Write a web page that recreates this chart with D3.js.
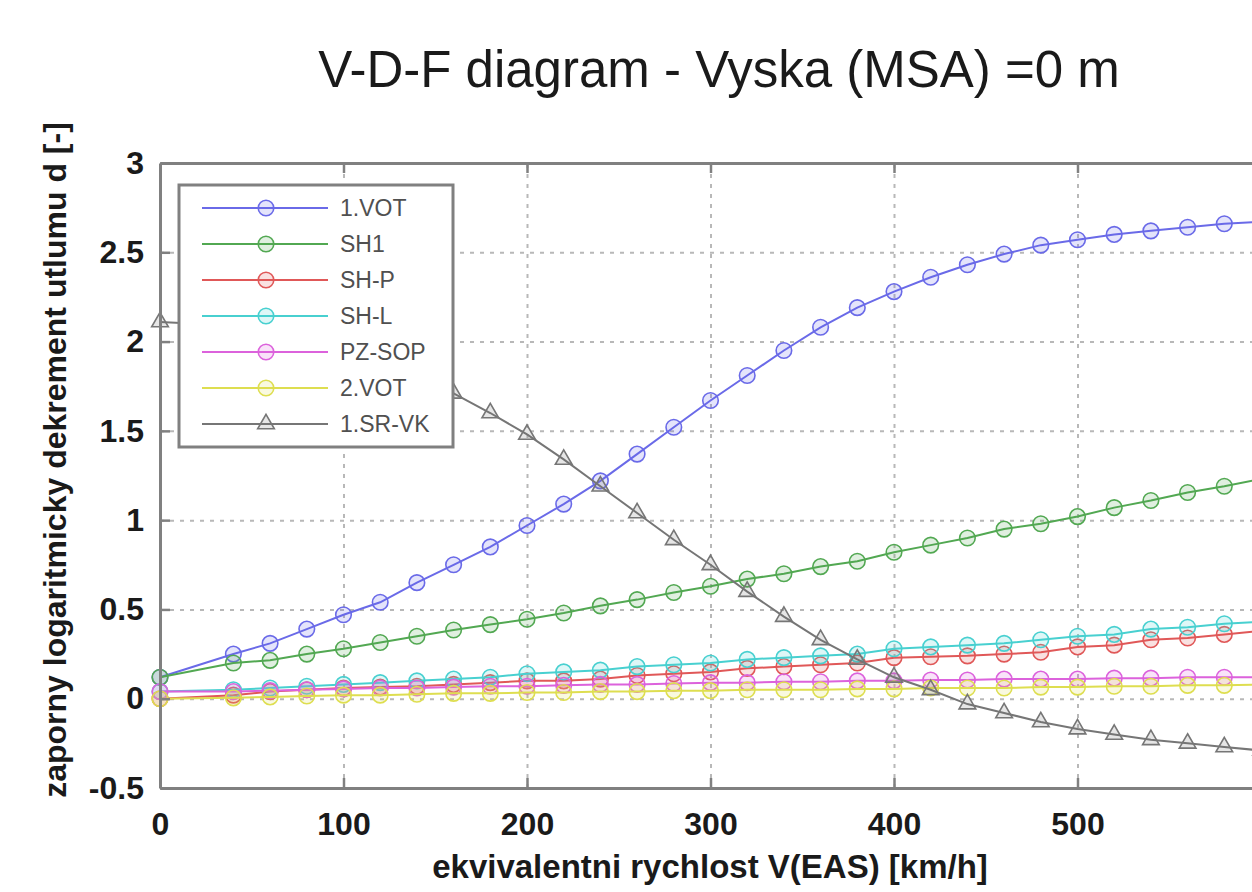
<!DOCTYPE html>
<html>
<head>
<meta charset="utf-8">
<script src="https://cdn.jsdelivr.net/npm/d3@7/dist/d3.min.js"></script>
<style>
body { margin: 0; background: #ffffff; }
svg { display: block; font-family: 'Liberation Sans', Arial, sans-serif; }
</style>
</head>
<body>
<svg id="board"></svg>
<script>
// data
let speeds = [0, 40, 60, 80, 100, 120, 140, 160, 180, 200, 220, 240, 260, 280, 300,
              320, 340, 360, 380, 400, 420, 440, 460, 480, 500, 520, 540, 560, 580, 600]

let vot1  = [0.12, 0.25, 0.31, 0.39, 0.47, 0.54, 0.65, 0.75, 0.85, 0.97, 1.09, 1.22, 1.37, 1.52, 1.67,
             1.81, 1.95, 2.08, 2.19, 2.28, 2.36, 2.43, 2.49, 2.54, 2.57, 2.60, 2.62, 2.64, 2.66, 2.67]
let sh1   = [0.12, 0.20, 0.215, 0.25, 0.28, 0.315, 0.35, 0.385, 0.415, 0.445, 0.48, 0.52, 0.555, 0.595, 0.63,
             0.67, 0.70, 0.74, 0.77, 0.82, 0.86, 0.90, 0.95, 0.98, 1.02, 1.07, 1.11, 1.155, 1.19, 1.23]
let shP   = [0.0, 0.02, 0.04, 0.05, 0.06, 0.065, 0.07, 0.08, 0.09, 0.10, 0.10, 0.11, 0.13, 0.14, 0.15,
             0.17, 0.18, 0.19, 0.20, 0.23, 0.235, 0.24, 0.25, 0.26, 0.29, 0.30, 0.33, 0.34, 0.36, 0.38]
let shL   = [0.04, 0.05, 0.06, 0.07, 0.08, 0.09, 0.10, 0.11, 0.12, 0.14, 0.15, 0.16, 0.18, 0.19, 0.20,
             0.22, 0.23, 0.24, 0.25, 0.28, 0.29, 0.30, 0.31, 0.33, 0.35, 0.36, 0.39, 0.40, 0.42, 0.43]
let pzSop = [0.04, 0.04, 0.045, 0.05, 0.055, 0.06, 0.06, 0.065, 0.07, 0.07, 0.075, 0.08, 0.08, 0.085, 0.09,
             0.09, 0.095, 0.095, 0.10, 0.10, 0.105, 0.105, 0.11, 0.11, 0.11, 0.115, 0.115, 0.12, 0.12, 0.12]
let vot2  = [0.0, 0.005, 0.01, 0.015, 0.02, 0.02, 0.025, 0.03, 0.03, 0.035, 0.035, 0.04, 0.04, 0.045, 0.045,
             0.05, 0.05, 0.05, 0.055, 0.055, 0.06, 0.06, 0.06, 0.065, 0.065, 0.07, 0.07, 0.075, 0.075, 0.08]
let srVk1 = [2.11, 2.09, 2.06, 2.02, 1.96, 1.89, 1.80, 1.71, 1.60, 1.48, 1.34, 1.19, 1.04, 0.89, 0.75,
             0.60, 0.46, 0.33, 0.22, 0.12, 0.05, -0.03, -0.08, -0.13, -0.17, -0.20, -0.23, -0.25, -0.27, -0.29]

let seriesNames = ['1.VOT', 'SH1', 'SH-P', 'SH-L', 'PZ-SOP', '2.VOT', '1.SR-VK']
let seriesColors = ['#6a6ae8', '#52a852', '#e05858', '#48d0d0', '#dc62dc', '#dede50', '#767676']

let xTicks = [0, 100, 200, 300, 400, 500]
let yTicks = [-0.5, 0, 0.5, 1, 1.5, 2, 2.5, 3]

let titleText = 'V-D-F diagram - Vyska (MSA) =0 m'
let xLabel = 'ekvivalentni rychlost V(EAS) [km/h]'
let yLabel = 'zaporny logaritmicky dekrement utlumu d [-]'

let width = 1252
let height = 892
let plotLeft = 160
let plotRight = 1261
let plotTop = 163
let plotBottom = 788

let xScale
let yScale

let board = d3.select('#board')
              .attr('width', width)
              .attr('height', height)

let allSeries = [vot1, sh1, shP, shL, pzSop, vot2, srVk1].map((vals, i) => {
    return {
        name: seriesNames[i],
        color: seriesColors[i],
        marker: i == 6 ? 'triangle' : 'circle',
        points: vals.map((v, j) => ({ x: speeds[j], y: v }))
    }
})

let makeScales = () => {
    xScale = d3.scaleLinear()
               .domain([0, 600])
               .range([plotLeft, plotRight])
    yScale = d3.scaleLinear()
               .domain([-0.5, 3])
               .range([plotBottom, plotTop])
}

let makeGrid = () => {
    board.append('g')
         .attr('class', 'grid')
         .attr('transform', 'translate(0,' + plotBottom + ')')
         .call(d3.axisBottom(xScale).tickValues(xTicks.slice(1)).tickSize(-(plotBottom - plotTop)).tickFormat(''))
    board.append('g')
         .attr('class', 'grid')
         .attr('transform', 'translate(' + plotLeft + ',0)')
         .call(d3.axisLeft(yScale).tickValues(yTicks.slice(1, -1)).tickSize(-(plotRight - plotLeft)).tickFormat(''))
    board.selectAll('.grid .domain').remove()
    board.selectAll('.grid line')
         .attr('stroke', '#b8b8b8')
         .attr('stroke-width', 2)
         .attr('stroke-dasharray', '4,6')
}

let markerPath = (kind) => {
    if (kind == 'triangle') {
        return d3.symbol(d3.symbolTriangle, 120)()
    }
    return d3.symbol(d3.symbolCircle, 190)()
}

let makeLines = () => {
    let line = d3.line()
                 .x(d => xScale(d.x))
                 .y(d => yScale(d.y))

    allSeries.forEach(s => {
        let g = board.append('g').attr('class', 'series')
        g.append('path')
         .datum(s.points)
         .attr('d', line)
         .attr('fill', 'none')
         .attr('stroke', s.color)
         .attr('stroke-width', 2)
        g.selectAll('path.mark')
         .data(s.points)
         .enter()
         .append('path')
         .attr('class', 'mark')
         .attr('d', markerPath(s.marker))
         .attr('transform', d => 'translate(' + xScale(d.x) + ',' + yScale(d.y) + ')')
         .attr('fill', s.color)
         .attr('fill-opacity', 0.18)
         .attr('stroke', s.color)
         .attr('stroke-width', 1.6)
    })
}

let makeAxes = () => {
    let frame = '#808080'

    let xAxis = d3.axisBottom(xScale)
                  .tickValues(xTicks)
                  .tickSizeInner(-10)
                  .tickSizeOuter(0)
                  .tickPadding(24)
                  .tickFormat(d => String(d))
    board.append('g')
         .attr('class', 'axis')
         .attr('id', 'x-axis')
         .attr('transform', 'translate(0,' + plotBottom + ')')
         .call(xAxis)

    let xTop = d3.axisTop(xScale)
                 .tickValues(xTicks.slice(1))
                 .tickSizeInner(-10)
                 .tickSizeOuter(0)
                 .tickFormat('')
    board.append('g')
         .attr('class', 'axis')
         .attr('transform', 'translate(0,' + plotTop + ')')
         .call(xTop)

    let yAxis = d3.axisLeft(yScale)
                  .tickValues(yTicks)
                  .tickSizeInner(-10)
                  .tickSizeOuter(0)
                  .tickPadding(16)
                  .tickFormat(d => String(d))
    board.append('g')
         .attr('class', 'axis')
         .attr('id', 'y-axis')
         .attr('transform', 'translate(' + plotLeft + ',0)')
         .call(yAxis)

    board.selectAll('.axis .domain').attr('stroke', frame).attr('stroke-width', 3)
    board.selectAll('.axis .tick line').attr('stroke', frame).attr('stroke-width', 2.5)
    board.selectAll('.axis text')
         .attr('font-size', 32)
         .attr('font-weight', 'bold')
         .attr('fill', '#1a1a1a')
         .attr('font-family', "'Liberation Sans', Arial, sans-serif")
}

let makeLegend = () => {
    let lg = board.append('g').attr('id', 'legend')
    lg.append('rect')
      .attr('x', 179)
      .attr('y', 185)
      .attr('width', 274)
      .attr('height', 262)
      .attr('fill', '#ffffff')
      .attr('stroke', '#808080')
      .attr('stroke-width', 3)

    let rows = lg.selectAll('g.row')
                 .data(allSeries)
                 .enter()
                 .append('g')
                 .attr('class', 'row')
                 .attr('transform', (d, i) => 'translate(0,' + (208 + i * 36) + ')')
    rows.append('line')
        .attr('x1', 202).attr('x2', 328)
        .attr('y1', 0).attr('y2', 0)
        .attr('stroke', d => d.color)
        .attr('stroke-width', 2)
    rows.append('path')
        .attr('d', d => markerPath(d.marker))
        .attr('transform', 'translate(266,0)')
        .attr('fill', d => d.color)
        .attr('fill-opacity', 0.18)
        .attr('stroke', d => d.color)
        .attr('stroke-width', 1.6)
    rows.append('text')
        .attr('x', 340)
        .attr('y', 8)
        .attr('font-size', 23)
        .attr('fill', '#505050')
        .text(d => d.name)
}

let makeTitles = () => {
    board.append('text')
         .attr('x', 719)
         .attr('y', 87)
         .attr('text-anchor', 'middle')
         .attr('font-size', 51)
         .attr('fill', '#1a1a1a')
         .text(titleText)
    board.append('text')
         .attr('x', 710)
         .attr('y', 878)
         .attr('text-anchor', 'middle')
         .attr('font-size', 33)
         .attr('font-weight', 'bold')
         .attr('fill', '#1a1a1a')
         .text(xLabel)
    board.append('text')
         .attr('transform', 'translate(66,460) rotate(-90)')
         .attr('text-anchor', 'middle')
         .attr('font-size', 32)
         .attr('font-weight', 'bold')
         .attr('fill', '#1a1a1a')
         .text(yLabel)
}

makeScales()
makeGrid()
makeLines()
makeAxes()
makeLegend()
makeTitles()
</script>
</body>
</html>
